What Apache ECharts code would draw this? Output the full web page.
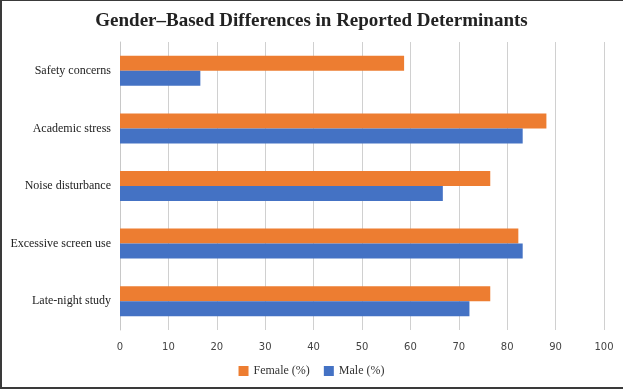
<!DOCTYPE html>
<html>
<head>
<meta charset="utf-8">
<script src="https://cdn.jsdelivr.net/npm/echarts@6/dist/echarts.min.js"></script>
<style>
    html, body { margin: 0; padding: 0; background: #fff; }
    #frame {
        position: absolute; left: 0; top: 0;
        width: 623px; height: 389px;
        border-left: 2px solid #3a3a3a;
        border-top: 1px solid #3a3a3a;
        border-bottom: 2px solid #3a3a3a;
        box-sizing: border-box;
    }
    #main { position: absolute; left: 0; top: 0; width: 623px; height: 392px; }
</style>
</head>
<body>
<div id="frame"></div>
<div id="main"></div>
<script>
// 类别（自上而下）
var categories = ['Safety concerns', 'Academic stress', 'Noise disturbance', 'Excessive screen use', 'Late-night study'];
// 女性 / 男性 百分比
var femaleValues = [58.7, 88.1, 76.5, 82.3, 76.5];
var maleValues = [16.6, 83.2, 66.7, 83.2, 72.2];
var xTicks = [0, 10, 20, 30, 40, 50, 60, 70, 80, 90, 100];

var chart = echarts.init(document.getElementById('main'));

var option = {
    animation: false,
    title: {
        text: 'Gender\u2013Based Differences in Reported Determinants',
        left: 'center',
        top: 7,
        textStyle: {
            fontFamily: 'Liberation Serif',
            fontWeight: 'bold',
            fontSize: 19,
            color: '#222'
        }
    },
    legend: {
        bottom: 10,
        left: 'center',
        itemWidth: 10,
        itemHeight: 10,
        itemGap: 14,
        icon: 'rect',
        textStyle: {
            fontFamily: 'Liberation Serif',
            fontSize: 12,
            color: '#333'
        },
        data: ['Female (%)', 'Male (%)']
    },
    grid: {
        left: 120,
        right: 19,
        top: 42,
        bottom: 62,
        containLabel: false
    },
    xAxis: {
        type: 'value',
        min: xTicks[0],
        max: xTicks[xTicks.length - 1],
        interval: 10,
        axisLine: { show: false },
        axisTick: { show: false },
        axisLabel: {
            margin: 12,
            fontFamily: 'DejaVu Sans',
            fontSize: 10,
            color: '#444'
        },
        splitLine: { lineStyle: { color: '#d0d0d0', width: 1 } }
    },
    yAxis: {
        type: 'category',
        inverse: true,
        data: categories,
        axisLine: { lineStyle: { color: '#c8c8c8' } },
        axisTick: { show: false },
        axisLabel: {
            margin: 9,
            fontFamily: 'Liberation Serif',
            fontSize: 12,
            color: '#222'
        }
    },
    series: [
        {
            name: 'Female (%)',
            type: 'bar',
            data: femaleValues,
            barWidth: 15,
            barGap: '0%',
            itemStyle: { color: '#ed7d31' }
        },
        {
            name: 'Male (%)',
            type: 'bar',
            data: maleValues,
            barWidth: 15,
            barGap: '0%',
            itemStyle: { color: '#4472c4' }
        }
    ]
};

chart.setOption(option);
</script>
</body>
</html>
